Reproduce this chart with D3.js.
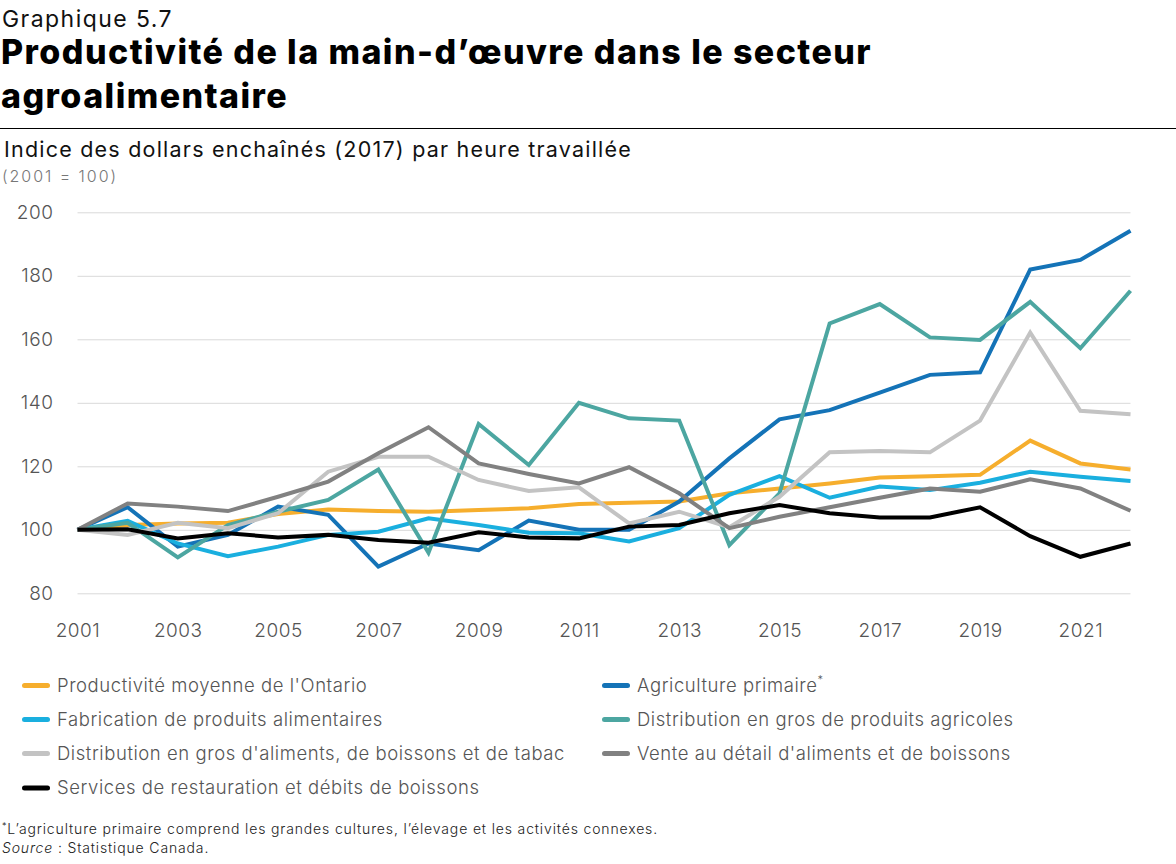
<!DOCTYPE html>
<html>
<head>
<meta charset="utf-8">
<script src="https://cdn.jsdelivr.net/npm/d3@7"></script>
<style>
  body { margin: 0; background: #fff; }
  svg { display: block; font-family: Inter, "Open Sans", sans-serif; }
</style>
</head>
<body>
<div id="chart"></div>
<script>
// Years on the x axis
const years = d3.range(2001, 2023);
const xTickYears = [2001, 2003, 2005, 2007, 2009, 2011, 2013, 2015, 2017, 2019, 2021];
const yTicks = [80, 100, 120, 140, 160, 180, 200];

// Series values (2001 = 100)
const ontario      = [100, 101.5, 102, 102.2, 105, 106.4, 105.9, 105.7, 106.2, 106.8, 108.1, 108.5, 108.9, 111.5, 113, 114.6, 116.5, 116.9, 117.3, 128.1, 120.9, 119];
const agriculture  = [100, 107.1, 94.7, 98.4, 107.3, 104.7, 88.4, 95.7, 93.6, 102.9, 100, 100, 108.9, 122.5, 134.8, 137.7, 143.2, 148.8, 149.6, 182, 185, 194.2];
const fabrication  = [100, 102.8, 95.7, 91.7, 94.7, 98.4, 99.4, 103.6, 101.5, 99.1, 98.9, 96.3, 100.5, 111, 116.9, 110.1, 113.6, 112.5, 114.8, 118.3, 116.7, 115.4];
const grosAgricole = [100, 102.2, 91.3, 101.5, 105.7, 109.4, 119, 92.8, 133.3, 120.4, 140, 135.1, 134.4, 95.2, 111.5, 165, 171.1, 160.6, 159.8, 171.8, 157.2, 175.3];
const grosAliments = [100, 98.4, 102.2, 100.5, 105.2, 118.3, 123, 123, 115.7, 112.2, 113.4, 102, 105.7, 100.8, 110.4, 124.4, 124.8, 124.4, 134.4, 162.1, 137.5, 136.4];
const detail       = [100, 108.3, 107.3, 105.9, 110.4, 115.2, 124.1, 132.3, 120.9, 117.6, 114.6, 119.7, 111.5, 100.5, 104.1, 107.1, 110.1, 113, 112, 115.9, 113, 106];
const restauration = [100, 100.2, 97.3, 98.9, 97.6, 98.4, 96.8, 95.9, 99.2, 97.6, 97.3, 101, 101.5, 105.2, 107.8, 105.2, 103.9, 103.9, 107.1, 98, 91.5, 95.7];

const seriesNames = [
  "Productivité moyenne de l'Ontario",
  "Agriculture primaire",
  "Fabrication de produits alimentaires",
  "Distribution en gros de produits agricoles",
  "Distribution en gros d'aliments, de boissons et de tabac",
  "Vente au détail d'aliments et de boissons",
  "Services de restauration et débits de boissons"
];
const seriesValues = [ontario, agriculture, fabrication, grosAgricole, grosAliments, detail, restauration];
const seriesColors = ["#f6ae2d", "#1473b7", "#1aafdf", "#4ca6a1", "#c3c3c3", "#818181", "#000000"];

const width = 1176, height = 864;
const margin = { left: 77.5, right: 1130.5, top: 212.3, bottom: 593.3 };

const svg = d3.select("#chart").append("svg")
  .attr("width", width)
  .attr("height", height);

// stretch a text's letter spacing so it spans a given width
function fitWidth(sel, target) {
  const node = sel.node();
  const n = node.getNumberOfChars();
  const len = node.getComputedTextLength();
  sel.attr("letter-spacing", (target - len) / n);
}

// Titles
svg.append("text").attr("x", 2).attr("y", 27)
  .attr("font-size", 23).attr("fill", "#111").text("Graphique 5.7")
  .call(fitWidth, 171);
const t1 = svg.append("text").attr("x", 1).attr("y", 64)
  .attr("font-size", 34).attr("font-weight", 800).attr("fill", "#000")
  .text("Productivité de la main-d’œuvre dans le secteur");
const tLen = t1.node().getComputedTextLength();
const tSpacing = (871 - tLen) / t1.node().getNumberOfChars();
t1.attr("letter-spacing", tSpacing);
svg.append("text").attr("x", 1).attr("y", 108)
  .attr("font-size", 34).attr("font-weight", 800).attr("fill", "#000")
  .attr("letter-spacing", tSpacing)
  .text("agroalimentaire");
svg.append("line").attr("x1", 0).attr("x2", width).attr("y1", 128.5).attr("y2", 128.5)
  .attr("stroke", "#000").attr("stroke-width", 1);
svg.append("text").attr("x", 4).attr("y", 157)
  .attr("font-size", 21.5).attr("fill", "#111")
  .text("Indice des dollars enchaînés (2017) par heure travaillée")
  .call(fitWidth, 628);
svg.append("text").attr("x", 2).attr("y", 182)
  .attr("font-size", 16).attr("font-weight", 300).attr("fill", "#777")
  .text("(2001 = 100)")
  .call(fitWidth, 116);

// Scales
const x = d3.scaleLinear().domain([2001, 2022]).range([margin.left, margin.right]);
const y = d3.scaleLinear().domain([80, 200]).range([margin.bottom, margin.top]);

// Grid lines + y labels
const yAxis = d3.axisLeft(y).tickValues(yTicks)
  .tickSize(-(margin.right - margin.left)).tickPadding(24);
svg.append("g")
  .attr("transform", `translate(${margin.left},0)`)
  .call(yAxis)
  .call(g => g.select(".domain").remove())
  .call(g => g.selectAll(".tick line").attr("stroke", "#d9d9d9"))
  .call(g => g.selectAll(".tick text")
    .attr("font-size", 19).attr("font-weight", 300).attr("letter-spacing", 0.5)
    .attr("fill", "#555").attr("font-family", "Inter, sans-serif"));

// x labels
const xAxis = d3.axisBottom(x).tickValues(xTickYears)
  .tickFormat(d3.format("d")).tickSize(0).tickPadding(30);
svg.append("g")
  .attr("transform", `translate(0,${margin.bottom})`)
  .call(xAxis)
  .call(g => g.select(".domain").remove())
  .call(g => g.selectAll(".tick text")
    .attr("font-size", 19).attr("font-weight", 300).attr("letter-spacing", 0.5)
    .attr("fill", "#555").attr("font-family", "Inter, sans-serif"));

// Lines
const line = d3.line()
  .x((d, i) => x(years[i]))
  .y(d => y(d));

svg.append("g")
  .selectAll("path")
  .data(seriesValues)
  .join("path")
  .attr("fill", "none")
  .attr("stroke", (d, i) => seriesColors[i])
  .attr("stroke-width", 4)
  .attr("stroke-linejoin", "miter")
  .attr("d", line);

// Legend: two columns
const legendCols = [22, 602];
const legendRows = [685.5, 719.5, 753.5, 788];
const legend = svg.append("g")
  .selectAll("g")
  .data(seriesNames)
  .join("g")
  .attr("transform", (d, i) => `translate(${legendCols[i % 2]},${legendRows[Math.floor(i / 2)]})`);

legend.append("line")
  .attr("x1", 2.5).attr("x2", 25.5).attr("y1", 0).attr("y2", 0)
  .attr("stroke", (d, i) => seriesColors[i])
  .attr("stroke-width", 5).attr("stroke-linecap", "round");

const legendText = legend.append("text")
  .attr("x", 35).attr("y", 0).attr("dy", "0.35em")
  .attr("font-size", 18.5).attr("font-weight", 300).attr("fill", "#555")
  .text(d => d);
// match the reference width of the longest label
const lt = legendText.filter((d, i) => i === 4).node();
const legendSpacing = (508 - lt.getComputedTextLength()) / lt.getNumberOfChars();
legendText.attr("letter-spacing", legendSpacing);
legendText.filter((d, i) => i === 1)
  .append("tspan").attr("font-size", 11).attr("dy", "-0.7em").text("*");

// Notes
const note = svg.append("text").attr("x", 2).attr("y", 834)
  .attr("font-size", 14).attr("font-weight", 300).attr("fill", "#222")
  .call(t => t.append("tspan").attr("font-size", 9).attr("dy", -5).text("*"))
  .call(t => t.append("tspan").attr("dy", 5)
    .text("L’agriculture primaire comprend les grandes cultures, l’élevage et les activités connexes."));
fitWidth(note, 656);
const src = svg.append("text").attr("x", 2).attr("y", 853)
  .attr("font-size", 14).attr("font-weight", 300).attr("fill", "#222")
  .call(t => t.append("tspan").attr("font-style", "italic").text("Source"))
  .call(t => t.append("tspan").text(" : Statistique Canada."));
src.attr("letter-spacing", note.attr("letter-spacing"));
</script>
</body>
</html>
